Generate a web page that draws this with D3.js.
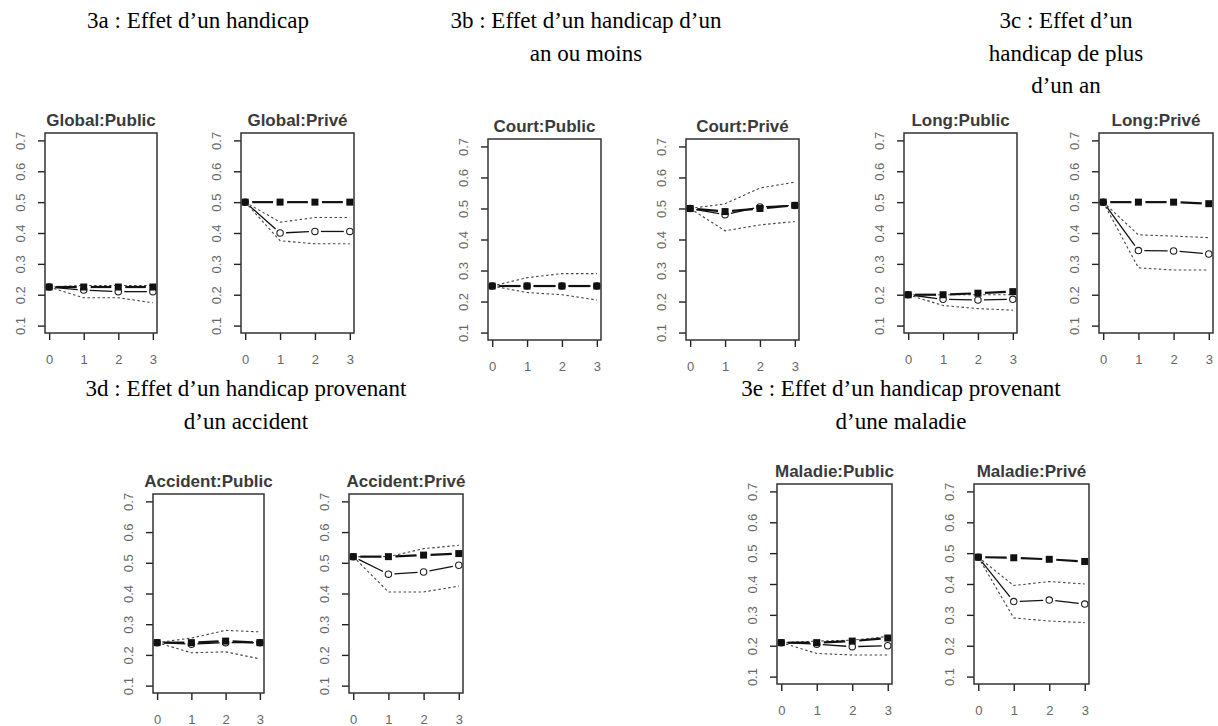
<!DOCTYPE html>
<html>
<head>
<meta charset="utf-8">
<script src="https://cdn.jsdelivr.net/npm/d3@7"></script>
<style>
  body { margin: 0; background: #fff; }
  svg { display: block; }
</style>
</head>
<body>
<script>
// values, one row per panel, x = 0..3
const steps = [0, 1, 2, 3];
const yTicks = [0.1, 0.2, 0.3, 0.4, 0.5, 0.6, 0.7];
const panelTitles = ['Global:Public', 'Global:Privé', 'Court:Public', 'Court:Privé', 'Long:Public',
  'Long:Privé', 'Accident:Public', 'Accident:Privé', 'Maladie:Public', 'Maladie:Privé'];

// thick line, filled squares
const refValues = [
  [0.225, 0.225, 0.225, 0.225],
  [0.50, 0.50, 0.50, 0.50],
  [0.25, 0.25, 0.25, 0.25],
  [0.50, 0.49, 0.50, 0.51],
  [0.20, 0.20, 0.205, 0.21],
  [0.50, 0.50, 0.50, 0.495],
  [0.24, 0.24, 0.245, 0.24],
  [0.52, 0.52, 0.525, 0.53],
  [0.21, 0.21, 0.215, 0.225],
  [0.487, 0.485, 0.48, 0.473]
];
// thin line, open circles
const effectValues = [
  [0.225, 0.215, 0.21, 0.21],
  [0.50, 0.40, 0.405, 0.405],
  [0.25, 0.25, 0.25, 0.25],
  [0.50, 0.48, 0.505, 0.51],
  [0.20, 0.185, 0.183, 0.185],
  [0.50, 0.343, 0.342, 0.332],
  [0.24, 0.235, 0.24, 0.24],
  [0.52, 0.463, 0.47, 0.492],
  [0.21, 0.205, 0.197, 0.20],
  [0.487, 0.343, 0.348, 0.335]
];
// dotted bounds
const upperValues = [
  [0.225, 0.23, 0.23, 0.23],
  [0.50, 0.435, 0.45, 0.45],
  [0.25, 0.277, 0.29, 0.29],
  [0.50, 0.515, 0.566, 0.585],
  [0.20, 0.20, 0.20, 0.20],
  [0.50, 0.394, 0.39, 0.385],
  [0.24, 0.255, 0.28, 0.275],
  [0.52, 0.52, 0.546, 0.557],
  [0.21, 0.215, 0.218, 0.23],
  [0.487, 0.395, 0.408, 0.40]
];
const lowerValues = [
  [0.225, 0.19, 0.19, 0.174],
  [0.50, 0.375, 0.365, 0.365],
  [0.25, 0.229, 0.222, 0.205],
  [0.50, 0.428, 0.447, 0.458],
  [0.20, 0.165, 0.155, 0.15],
  [0.50, 0.287, 0.28, 0.28],
  [0.24, 0.207, 0.21, 0.187],
  [0.52, 0.405, 0.405, 0.424],
  [0.21, 0.175, 0.17, 0.17],
  [0.487, 0.29, 0.28, 0.275]
];

const headingLines = [
  ['3a : Effet d’un handicap'],
  ['3b : Effet d’un handicap d’un', 'an ou moins'],
  ['3c : Effet d’un', 'handicap de plus', 'd’un an'],
  ['3d : Effet d’un handicap provenant', 'd’un accident'],
  ['3e : Effet d’un handicap provenant', 'd’une maladie']
];

// layout
const boxes = [
  {left: 45, top: 133, width: 112, height: 200},
  {left: 241, top: 133, width: 113, height: 200},
  {left: 488, top: 139, width: 113, height: 201},
  {left: 686, top: 139, width: 113, height: 201},
  {left: 904, top: 133, width: 113, height: 200},
  {left: 1099, top: 133, width: 114, height: 200},
  {left: 153, top: 494, width: 111, height: 199},
  {left: 349, top: 494, width: 114, height: 199},
  {left: 777, top: 484, width: 115, height: 200},
  {left: 974, top: 484, width: 115, height: 200}
];
const headingPos = [
  {x: 198, y: 28}, {x: 586, y: 28}, {x: 1066, y: 28}, {x: 246, y: 396}, {x: 901, y: 396}
];
const lineGap = 32.5;

let svg = d3.select('body').append('svg')
  .attr('width', 1218)
  .attr('height', 726);

// headings
headingLines.forEach((lines, i) => {
  svg.append('text')
    .attr('x', headingPos[i].x)
    .attr('y', headingPos[i].y)
    .style('font-family', '"Liberation Serif", "Times New Roman", serif')
    .style('font-size', '23px')
    .style('fill', '#000')
    .attr('text-anchor', 'middle')
    .selectAll('tspan')
    .data(lines)
    .join('tspan')
    .attr('x', headingPos[i].x)
    .attr('dy', (d, j) => j === 0 ? 0 : lineGap)
    .text(d => d);
});

// draws segments between markers with a gap around each, like R type="b"
function gappedSegments(g, pts, gap, width) {
  for (let k = 0; k < pts.length - 1; k++) {
    let [x1, y1] = pts[k], [x2, y2] = pts[k + 1];
    let len = Math.hypot(x2 - x1, y2 - y1);
    if (len <= 2 * gap) continue;
    let ux = (x2 - x1) / len, uy = (y2 - y1) / len;
    g.append('line')
      .attr('x1', x1 + ux * gap).attr('y1', y1 + uy * gap)
      .attr('x2', x2 - ux * gap).attr('y2', y2 - uy * gap)
      .style('stroke', '#111')
      .style('stroke-width', width);
  }
}

boxes.forEach((box, i) => {
  let x = d3.scaleLinear().domain([-0.12, 3.12]).range([box.left, box.left + box.width]);
  let y = d3.scaleLinear().domain([0.076, 0.724]).range([box.top + box.height, box.top]);
  let g = svg.append('g');

  // title
  g.append('text')
    .attr('x', box.left + box.width / 2)
    .attr('y', box.top - 7)
    .attr('text-anchor', 'middle')
    .style('font-family', '"Liberation Sans", Arial, sans-serif')
    .style('font-weight', 'bold')
    .style('font-size', '17px')
    .style('fill', '#3a3a3a')
    .text(panelTitles[i]);

  // y axis
  let yAxis = g.append('g')
    .attr('transform', 'translate(' + box.left + ',0)')
    .call(d3.axisLeft(y).tickValues(yTicks).tickSize(7).tickFormat(d3.format('.1f')));
  yAxis.select('.domain').remove();
  yAxis.selectAll('line').style('stroke', '#222').style('stroke-width', 1.4);
  yAxis.selectAll('text')
    .attr('transform', 'rotate(-90)')
    .attr('x', 0)
    .attr('y', -20)
    .attr('dy', 0)
    .attr('text-anchor', 'middle')
    .style('font-family', '"Liberation Sans", Arial, sans-serif')
    .style('font-size', '13px')
    .style('fill', '#666');

  // x axis
  let xAxis = g.append('g')
    .attr('transform', 'translate(0,' + (box.top + box.height) + ')')
    .call(d3.axisBottom(x).tickValues(steps).tickSize(7).tickPadding(15).tickFormat(d3.format('d')));
  xAxis.select('.domain').remove();
  xAxis.selectAll('line').style('stroke', '#222').style('stroke-width', 1.4);
  xAxis.selectAll('text')
    .style('font-family', '"Liberation Sans", Arial, sans-serif')
    .style('font-size', '13px')
    .style('fill', '#666');

  // dotted bounds
  let dotted = d3.line().x((d, k) => x(steps[k])).y(d => y(d));
  [upperValues[i], lowerValues[i]].forEach(vals => {
    g.append('path')
      .attr('d', dotted(vals))
      .style('fill', 'none')
      .style('stroke', '#444')
      .style('stroke-width', 1.1)
      .style('stroke-dasharray', '2.5,2.5');
  });

  // effect line with open circles
  let effPts = effectValues[i].map((v, k) => [x(steps[k]), y(v)]);
  gappedSegments(g, effPts, 6, 1.3);
  g.selectAll('circle.eff')
    .data(effectValues[i])
    .join('circle')
    .attr('class', 'eff')
    .attr('cx', (d, k) => x(steps[k]))
    .attr('cy', d => y(d))
    .attr('r', 3.2)
    .style('fill', 'none')
    .style('stroke', '#222')
    .style('stroke-width', 1.1);

  // reference line with filled squares
  let refPts = refValues[i].map((v, k) => [x(steps[k]), y(v)]);
  gappedSegments(g, refPts, 7, 2.2);
  g.selectAll('rect.ref')
    .data(refValues[i])
    .join('rect')
    .attr('class', 'ref')
    .attr('x', (d, k) => x(steps[k]) - 3.5)
    .attr('y', d => y(d) - 3.5)
    .attr('width', 7)
    .attr('height', 7)
    .style('fill', '#111');

  // box
  g.append('rect')
    .attr('x', box.left)
    .attr('y', box.top)
    .attr('width', box.width)
    .attr('height', box.height)
    .style('fill', 'none')
    .style('stroke', '#333')
    .style('stroke-width', 1.5);
});
</script>
</body>
</html>
